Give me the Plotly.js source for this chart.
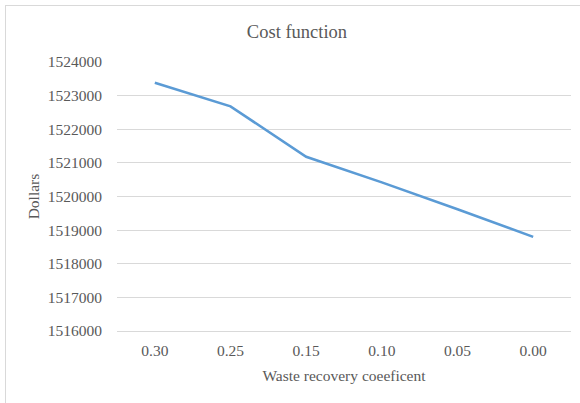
<!DOCTYPE html>
<html>
<head>
<meta charset="utf-8">
<script src="https://cdn.plot.ly/plotly-3.0.1.min.js"></script>
<style>
html,body{margin:0;padding:0;background:#fff;}
#wrap{position:relative;width:580px;height:403px;overflow:hidden;}
#chart{width:580px;height:403px;}
#frame{position:absolute;left:5px;top:5px;width:580px;height:420px;border:1px solid #d9d9d9;box-sizing:border-box;pointer-events:none;}
</style>
</head>
<body>
<div id="wrap"><div id="chart"></div><div id="frame"></div></div>
<script>
var categories = ["0.30", "0.25", "0.15", "0.10", "0.05", "0.00"];
var costValues = [1523380, 1522680, 1521180, 1520420, 1519620, 1518800];
var yTicks = [1516000, 1517000, 1518000, 1519000, 1520000, 1521000, 1522000, 1523000, 1524000];

var font = "'Liberation Serif', 'Times New Roman', serif";
var trace = {
  x: categories,
  y: costValues,
  type: "scatter",
  mode: "lines",
  line: {color: "#5b9bd5", width: 2.6},
  hoverinfo: "x+y"
};
var layout = {
  width: 580, height: 403,
  margin: {l: 117, r: 9, t: 62, b: 72},
  paper_bgcolor: "#ffffff",
  plot_bgcolor: "#ffffff",
  showlegend: false,
  font: {family: font, color: "#595959", size: 15.5},
  title: {text: "Cost function", x: 0.512, xref: "container", y: 0.923, yref: "container", yanchor: "middle",
          font: {family: font, size: 18.5, color: "#595959"}},
  xaxis: {
    type: "category",
    range: [-0.5, 5.5],
    showgrid: false,
    zeroline: false,
    showline: true, linecolor: "#d9d9d9", linewidth: 1,
    ticks: "outside", ticklen: 5, tickcolor: "rgba(0,0,0,0)",
    tickfont: {family: font, size: 15.5, color: "#595959"},
    title: {text: "Waste recovery coeeficent", standoff: 12, font: {family: font, size: 15.5, color: "#595959"}}
  },
  yaxis: {
    range: [1516000, 1524000],
    tickvals: yTicks,
    ticktext: yTicks.map(String),
    showgrid: true, gridcolor: "#d9d9d9", gridwidth: 1,
    zeroline: false,
    showline: false,
    ticks: "outside", ticklen: 11, tickcolor: "rgba(0,0,0,0)",
    tickfont: {family: font, size: 15.5, color: "#595959"},
    title: {text: "Dollars", standoff: 4, font: {family: font, size: 15.5, color: "#595959"}}
  }
};
Plotly.newPlot("chart", [trace], layout, {displayModeBar: false, staticPlot: true});
</script>
</body>
</html>
